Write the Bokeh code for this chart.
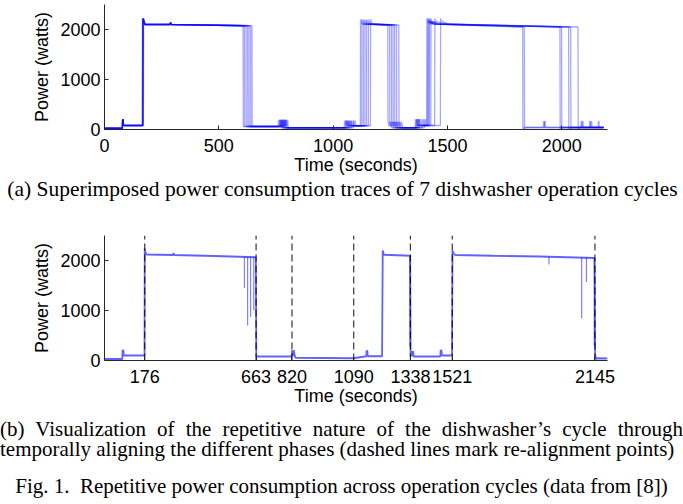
from bokeh.plotting import figure
from bokeh.layouts import column
from bokeh.models import Range1d, FixedTicker, Div
from bokeh.embed import file_html
from bokeh.resources import INLINE

# ---------------- data ----------------
# (a) seven superimposed cycles: transition times (s) of each cycle
RISE_1  = [166, 167, 168, 168, 169, 170, 171]
FALL_1  = [607, 613, 620, 627, 633, 640, 646]
SPIKE_2 = [761, 766, 771, 776, 781, 786, 791]
SPIKE_3 = [1050, 1055, 1060, 1066, 1072, 1080, 1090]
RISE_2  = [1120, 1126, 1133, 1140, 1147, 1155, 1164]
FALL_2  = [1240, 1248, 1256, 1263, 1270, 1278, 1288]
SPIKE_4 = [1360, 1364, 1368, 1372, 1378, 1390, 1400]
RISE_3  = [1410, 1414, 1418, 1422, 1428, 1445, 1470]
FALL_3  = [1830, 1837, 1993, 2000, 2031, 2040, 2072]
SPIKE_5 = [1920, 1925, 2085, 2090, 2122, 2128, 2160]
END_T   = 2183
# power levels (W) of the phases
P_IDLE, P_PRE, P_SPK = 25, 80, 195
P_PEAK, P_HEAT, P_BUMP, P_HEAT_END = 2220, 2100, 2140, 2075
P_DRAIN, P_LOW, P_MID = 60, 35, 75
P_PEAK_2, P_HEAT_2, P_HEAT_2_END = 2200, 2110, 2090
P_HEAT_3, P_HEAT_3_END, P_LOW_3 = 2110, 2050, 40

# (b) temporally aligned cycles
ALIGN_POINTS = [176, 663, 820, 1090, 1338, 1521, 2145]
ALIGNED_T = [0, 78, 79, 83, 84, 175, 176, 178, 184, 300, 302, 305, 480, 662,
             664, 819, 820, 822, 824, 826, 828, 832, 836, 1090, 1145, 1146,
             1150, 1151, 1214, 1217, 1222, 1337, 1339, 1342, 1344, 1346, 1348,
             1350, 1352, 1469, 1470, 1474, 1476, 1520, 1522, 1526, 1534, 1700,
             1900, 2144, 2146, 2150, 2160, 2200]
ALIGNED_P = [30, 30, 210, 200, 100, 100, 2240, 2180, 2120, 2110, 2150, 2110,
             2090, 2065, 80, 80, 205, 90, 205, 90, 205, 90, 55, 45, 85, 190,
             190, 85, 85, 2200, 2115, 2095, 80, 190, 80, 190, 80, 190, 80, 80,
             200, 200, 100, 100, 2200, 2150, 2110, 2095, 2080, 2050, 110, 35,
             45, 40]
DIP_T   = [612, 626, 639, 653, 1944, 2087, 2108, 1336, 2142]
DIP_TOP = [2070, 2068, 2066, 2065, 2075, 2060, 2058, 2095, 2050]
DIP_P   = [1450, 700, 870, 1000, 1920, 840, 1570, 280, 300]

X_TICKS_A = [0, 500, 1000, 1500, 2000]
Y_TICKS = [0, 1000, 2000]

CAPTION_A = "(a) Superimposed power consumption traces of 7 dishwasher operation cycles"
CAPTION_B = ("(b) Visualization of the repetitive nature of the dishwasher\u2019s "
             "cycle through temporally aligning the different phases (dashed "
             "lines mark re-alignment points)")
CAPTION_FIG = "Fig. 1.&nbsp; Repetitive power consumption across operation cycles (data from [8])"


def cycle(i):
    r1, f1, s2, s3 = RISE_1[i], FALL_1[i], SPIKE_2[i], SPIKE_3[i]
    r2, f2, s4, r3 = RISE_2[i], FALL_2[i], SPIKE_4[i], RISE_3[i]
    f3, s5 = FALL_3[i], SPIKE_5[i]
    pts = [
        (0, P_IDLE), (78, P_IDLE), (79, P_SPK), (82, P_SPK), (83, P_PRE),
        (r1 - 1, P_PRE), (r1, P_PEAK), (r1 + 3, P_PEAK - 40), (r1 + 8, P_HEAT),
        (286, P_HEAT), (289, P_BUMP), (292, P_HEAT), (f1 - 1, P_HEAT_END),
        (f1, P_DRAIN), (s2 - 1, P_DRAIN), (s2, P_SPK), (s2 + 3, P_DRAIN + 10),
        (s2 + 5, P_SPK), (s2 + 8, P_DRAIN + 10), (s2 + 10, P_SPK),
        (s2 + 13, P_LOW), (s3 - 1, P_LOW), (s3, P_SPK - 15), (s3 + 4, P_MID + 10),
        (s3 + 6, P_SPK - 15), (s3 + 10, P_MID), (r2 - 1, P_MID),
        (r2, P_PEAK_2), (r2 + 3, P_PEAK_2 - 40), (r2 + 7, P_HEAT_2),
        (f2 - 1, P_HEAT_2_END), (f2, 160), (f2 + 4, P_DRAIN), (f2 + 6, 160),
        (f2 + 10, P_DRAIN), (f2 + 12, 150), (f2 + 16, P_LOW), (s4 - 1, P_LOW),
        (s4, P_SPK), (s4 + 5, P_SPK), (s4 + 6, P_PRE), (r3 - 1, P_PRE),
        (r3, P_PEAK), (r3 + 4, P_HEAT_3 + 20), (r3 + 10, 2170),
        (r3 + 14, P_HEAT_3), (r3 + 22, 2150), (r3 + 26, P_HEAT_3),
        (f3 - 1, P_HEAT_3_END), (f3, 15), (f3 + 8, P_LOW_3), (s5 - 1, P_LOW_3),
        (s5, 160), (s5 + 3, 160), (s5 + 4, P_LOW_3), (END_T, P_LOW_3),
    ]
    return [p[0] for p in pts], [p[1] for p in pts]


FONT = "Liberation Sans"
BLUE = "#0000ff"
W = 683


def style(p, xticks):
    p.outline_line_color = None
    p.xgrid.grid_line_color = None
    p.ygrid.grid_line_color = None
    p.background_fill_color = "white"
    p.border_fill_color = "white"
    for ax in (p.xaxis[0], p.yaxis[0]):
        ax.axis_line_color = "#262626"
        ax.axis_line_width = 1
        ax.major_tick_line_color = "#262626"
        ax.major_tick_in = 4
        ax.major_tick_out = 0
        ax.minor_tick_line_color = None
        ax.major_label_text_font = FONT
        ax.major_label_text_font_size = "18px"
        ax.major_label_text_color = "black"
        ax.axis_label_text_font = FONT
        ax.axis_label_text_font_size = "18px"
        ax.axis_label_text_font_style = "normal"
        ax.axis_label_text_color = "black"
    p.xaxis[0].ticker = FixedTicker(ticks=xticks)
    p.yaxis[0].ticker = FixedTicker(ticks=Y_TICKS)
    p.xaxis[0].major_label_standoff = 9
    p.xaxis[0].axis_label_standoff = 0
    p.yaxis[0].major_label_standoff = 4
    p.yaxis[0].axis_label_standoff = 5
    p.xaxis[0].axis_label = "Time (seconds)"
    p.yaxis[0].axis_label = "Power (watts)"


SERIF_CSS = ("font-family:'Liberation Serif','Times New Roman',serif;"
             "color:black;width:683px;margin:0;")

# ---------------- (a) ----------------
pa = figure(width=W, height=181, x_range=Range1d(0, 2200),
            y_range=Range1d(0, 2500), output_backend="svg",
            toolbar_location=None, min_border_left=104, min_border_right=76,
            min_border_top=4, min_border_bottom=52)
style(pa, X_TICKS_A)
for i in range(len(RISE_1)):
    xs, ys = cycle(i)
    pa.line(xs, ys, line_color=BLUE, line_alpha=0.35, line_width=1.3)

ca = Div(width=W, height=24, margin=0,
         text=(f'<div style="{SERIF_CSS}padding:0;font-size:21.5px;'
               f'line-height:24px;text-align:center;position:relative;'
               f'top:-4px;left:1px;white-space:nowrap;">{CAPTION_A}</div>'))

# ---------------- (b) ----------------
pb = figure(width=W, height=207, x_range=Range1d(0, 2200),
            y_range=Range1d(0, 2500), output_backend="svg",
            toolbar_location=None, min_border_left=104, min_border_right=76,
            min_border_top=30, min_border_bottom=52)
style(pb, ALIGN_POINTS)
pb.line(ALIGNED_T, ALIGNED_P, line_color=BLUE, line_alpha=0.62, line_width=1.8)
pb.segment(x0=DIP_T, y0=DIP_TOP, x1=DIP_T, y1=DIP_P, line_color=BLUE,
           line_alpha=0.5, line_width=1.2)
pb.segment(x0=ALIGN_POINTS, y0=[0] * len(ALIGN_POINTS), x1=ALIGN_POINTS,
           y1=[2500] * len(ALIGN_POINTS), line_color="black", line_alpha=0.8,
           line_width=1.2, line_dash="7 4")

cb = Div(width=W, height=92, margin=0,
         text=(f'<div style="{SERIF_CSS}padding:7px 0 0 0;font-size:21px;'
               f'line-height:20px;">'
               f'<div style="text-align:justify;">{CAPTION_B}</div>'
               f'<div style="text-align:center;margin-top:17px;'
               f'white-space:nowrap;">{CAPTION_FIG}</div></div>'))

layout = column(pa, ca, pb, cb)
open("out.html", "w").write(file_html(layout, INLINE))
